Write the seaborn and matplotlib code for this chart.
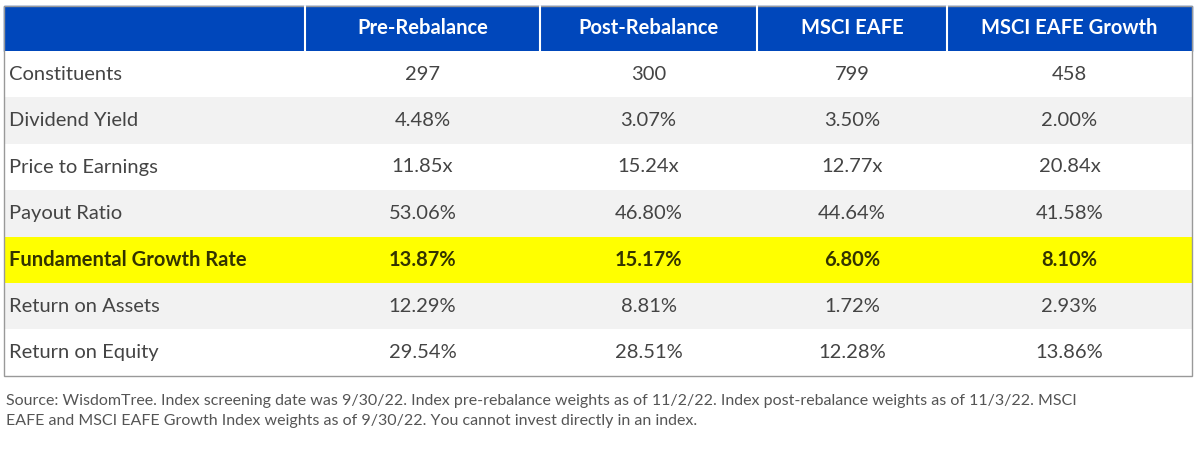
import matplotlib.pyplot as plt
from matplotlib.patches import Rectangle
import seaborn as sns

sns.set_theme(style="white")
plt.rcParams["font.family"] = ["Lato", "DejaVu Sans"]

columns = ["Pre-Rebalance", "Post-Rebalance", "MSCI EAFE", "MSCI EAFE Growth"]
metrics = ["Constituents", "Dividend Yield", "Price to Earnings", "Payout Ratio",
           "Fundamental Growth Rate", "Return on Assets", "Return on Equity"]
pre_rebalance = ["297", "4.48%", "11.85x", "53.06%", "13.87%", "12.29%", "29.54%"]
post_rebalance = ["300", "3.07%", "15.24x", "46.80%", "15.17%", "8.81%", "28.51%"]
msci_eafe = ["799", "3.50%", "12.77x", "44.64%", "6.80%", "1.72%", "12.28%"]
msci_eafe_growth = ["458", "2.00%", "20.84x", "41.58%", "8.10%", "2.93%", "13.86%"]
highlight_row = "Fundamental Growth Rate"
source = ("Source: WisdomTree. Index screening date was 9/30/22. Index pre-rebalance weights as of 11/2/22. "
          "Index post-rebalance weights as of 11/3/22. MSCI\nEAFE and MSCI EAFE Growth Index weights as of "
          "9/30/22. You cannot invest directly in an index.")

BLUE = "#0047bb"
GREY = "#f2f2f2"
YELLOW = "#ffff00"
TEXT = "#444444"

col_edges = [4, 305, 540, 757, 947, 1192]
top, head_h, row_h = 6, 45, 46.4

fig = plt.figure(figsize=(12, 4.49), dpi=100)
ax = fig.add_axes([0, 0, 1, 1])
ax.set_xlim(0, 1200)
ax.set_ylim(449, 0)
ax.axis("off")

# header
ax.add_patch(Rectangle((col_edges[0], top), col_edges[-1] - col_edges[0], head_h, color=BLUE))
for x in col_edges[1:-1]:
    ax.plot([x, x], [top, top + head_h], color="white", lw=1.5)
for i, name in enumerate(columns):
    cx = (col_edges[i + 1] + col_edges[i + 2]) / 2
    ax.text(cx, top + head_h / 2, name, color="white", fontsize=14.5, fontweight="bold",
            ha="center", va="center")

# body
values = list(zip(pre_rebalance, post_rebalance, msci_eafe, msci_eafe_growth))
fills = ["white", GREY, "white", GREY, YELLOW, GREY, "white"]
for r, (metric, vals) in enumerate(zip(metrics, values)):
    y0 = top + head_h + r * row_h
    bold = metric == highlight_row
    color = "#333300" if bold else TEXT
    ax.add_patch(Rectangle((col_edges[0], y0), col_edges[-1] - col_edges[0], row_h,
                           color=fills[r], lw=0))
    ax.text(col_edges[0] + 5, y0 + row_h / 2, metric, fontsize=14.5, color=color,
            fontweight="bold" if bold else "normal", ha="left", va="center")
    for i, v in enumerate(vals):
        cx = (col_edges[i + 1] + col_edges[i + 2]) / 2
        ax.text(cx, y0 + row_h / 2, v, fontsize=14.5, color=color,
                fontweight="bold" if bold else "normal", ha="center", va="center")

bottom = top + head_h + len(metrics) * row_h
ax.add_patch(Rectangle((col_edges[0], top), col_edges[-1] - col_edges[0], bottom - top,
                       fill=False, edgecolor="#999999", lw=1))

ax.text(6, 394, source, fontsize=11.5, color="#555555", ha="left", va="top", linespacing=1.55)

fig.savefig("out.png", dpi=100)
